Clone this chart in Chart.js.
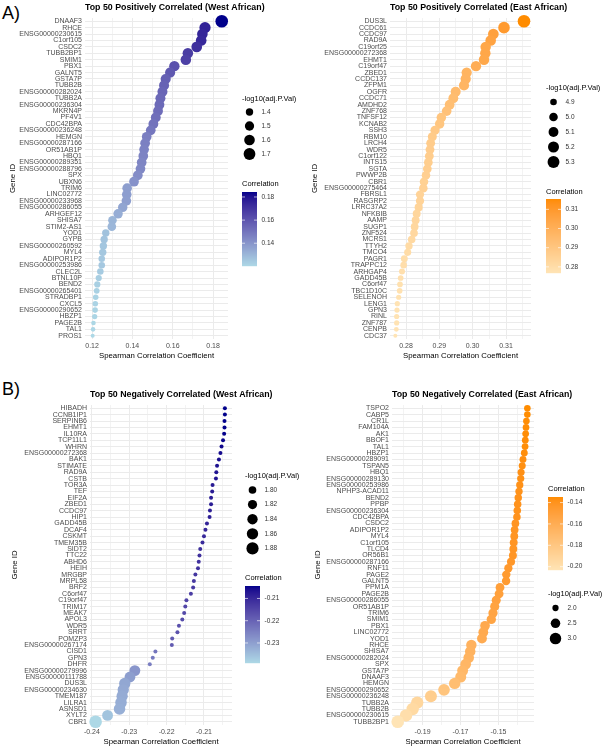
<!DOCTYPE html>
<html>
<head>
<meta charset="utf-8">
<script src="https://cdn.jsdelivr.net/npm/chart.js@4.4.1/dist/chart.umd.min.js"></script>
<style>
  body { margin: 0; background: #fff; width: 608px; height: 749px; position: relative; overflow: hidden;
         font-family: 'Liberation Sans', Arial, sans-serif; }
  canvas { position: absolute; }
  .tag { position: absolute; font-size: 18px; line-height: 18px; color: #000; }
</style>
</head>
<body>
<div class="tag" style="left:2px;top:4px">A)</div>
<div class="tag" style="left:2px;top:380px">B)</div>
<canvas id="posWest" width="304" height="365" style="left:0;top:0"></canvas>
<canvas id="posEast" width="304" height="365" style="left:304px;top:0"></canvas>
<canvas id="negWest" width="304" height="381" style="left:0;top:368px"></canvas>
<canvas id="negEast" width="304" height="381" style="left:304px;top:368px"></canvas>
<script>
// --- A) top 50 positive, West African
const westPosGenes = ['DNAAF3','RHCE','ENSG00000230615','C1orf105','CSDC2','TUBB2BP1','SMIM1','PBX1','GALNT5','GSTA7P',
  'TUBB2B','ENSG00000282024','TUBB2A','ENSG00000236304','MKRN4P','PF4V1','CDC42BPA','ENSG00000236248','HEMGN','ENSG00000287166',
  'OR51AB1P','HBQ1','ENSG00000289351','ENSG00000288796','SPX','UBXN6','TRIM6','LINC02772','ENSG00000233968','ENSG00000286055',
  'ARHGEF12','SHISA7','STIM2-AS1','YOD1','GYPB','ENSG00000260592','MYL4','ADIPOR1P2','ENSG00000253986','CLEC2L',
  'BTNL10P','BEND2','ENSG00000265401','STRADBP1','CXCL5','ENSG00000290652','HBZP1','PAGE2B','TAL1','PROS1'];
const westPosCorr = [0.1843,0.1760,0.1747,0.1741,0.1719,0.1675,0.1665,0.1608,0.1587,0.1565,
  0.1557,0.1549,0.1539,0.1534,0.1527,0.1516,0.1504,0.1491,0.1471,0.1463,
  0.1458,0.1454,0.1446,0.1440,0.1427,0.1408,0.1374,0.1372,0.1370,0.1352,
  0.1329,0.1301,0.1298,0.1268,0.1260,0.1256,0.1253,0.1248,0.1248,0.1241,
  0.1233,0.1226,0.1223,0.1218,0.1216,0.1215,0.1213,0.1207,0.1205,0.1203];
const westPosLogP = [1.78,1.65,1.60,1.60,1.60,1.59,1.59,1.58,1.56,1.56,
  1.55,1.55,1.55,1.54,1.54,1.54,1.54,1.53,1.53,1.53,
  1.53,1.53,1.53,1.53,1.53,1.53,1.52,1.52,1.52,1.51,
  1.51,1.46,1.46,1.40,1.40,1.40,1.40,1.37,1.37,1.37,
  1.36,1.36,1.35,1.345,1.345,1.345,1.34,1.332,1.332,1.33];
const westPosTicks = [0.12, 0.14, 0.16, 0.18];
const westPosSizeBreaks = [1.4, 1.5, 1.6, 1.7];
const westPosColorBreaks = [0.14, 0.16, 0.18];

// --- A) top 50 positive, East African
const eastPosGenes = ['DUS3L','CCDC61','CCDC97','RAD9A','C19orf25','ENSG00000272368','EHMT1','C19orf47','ZBED1','CCDC137',
  'ZFPM1','OGFR','CCDC71','AMDHD2','ZNF768','TNFSF12','KCNAB2','SSH3','RBM10','LRCH4',
  'WDR5','C1orf122','INTS15','SGTA','PWWP2B','CBR1','ENSG00000275464','FBRSL1','RASGRP2','LRRC37A2',
  'NFKBIB','AAMP','SUGP1','ZNF524','MCRS1','TTYH2','TMCO4','PAGR1','TRAPPC12','ARHGAP4',
  'GADD45B','C6orf47','TBC1D10C','SELENOH','LENG1','GPN3','RINL','ZNF787','CENPB','CDC37'];
const eastPosCorr = [0.3154,0.3094,0.3062,0.3054,0.3039,0.3038,0.3034,0.3010,0.2982,0.2979,
  0.2974,0.2949,0.2942,0.2931,0.2922,0.2906,0.2901,0.2887,0.2879,0.2874,
  0.2872,0.2870,0.2867,0.2864,0.2860,0.2854,0.2852,0.2842,0.2842,0.2838,
  0.2832,0.2829,0.2826,0.2824,0.2817,0.2809,0.2805,0.2795,0.2793,0.2788,
  0.2784,0.2782,0.2781,0.2778,0.2774,0.2773,0.2772,0.2772,0.2771,0.2768];
const eastPosLogP = [5.38,5.26,5.17,5.16,5.15,5.15,5.15,5.14,5.13,5.13,
  5.12,5.11,5.10,5.09,5.08,5.07,5.06,5.04,5.03,5.02,
  5.02,5.02,5.01,5.01,5.00,5.00,5.00,4.98,4.98,4.97,
  4.96,4.96,4.95,4.95,4.94,4.93,4.92,4.91,4.90,4.88,
  4.87,4.87,4.87,4.86,4.86,4.86,4.86,4.86,4.855,4.85];
const eastPosTicks = [0.28, 0.29, 0.30, 0.31];
const eastPosSizeBreaks = [4.9, 5.0, 5.1, 5.2, 5.3];
const eastPosColorBreaks = [0.28, 0.29, 0.30, 0.31];

// --- B) top 50 negative, West African
const westNegGenes = ['HIBADH','CCNB1IP1','SERPINB6','EHMT1','IL10RA','TCP11L1','WHRN','ENSG00000272368','BAK1','STIMATE',
  'RAD9A','CSTB','TOR3A','TEF','EIF2A','ZBED1','CCDC97','HIP1','GADD45B','DCAF4',
  'CSKMT','TMEM35B','SIDT2','TTC22','ABHD6','HEIH','MRGBP','MRPL58','BRF2','C6orf47',
  'C19orf47','TRIM17','MEAK7','APOL3','WDR5','SRRT','POMZP3','ENSG00000267174','CISD1','GPN3',
  'DHFR','ENSG00000279996','ENSG00000111788','DUS3L','ENSG00000234630','TMEM187','LILRA1','ASNSD1','XYLT2','CBR1'];
const westNegCorr = [-0.2044,-0.2044,-0.2045,-0.2045,-0.2046,-0.2049,-0.2053,-0.2056,-0.2060,-0.2065,
  -0.2067,-0.2068,-0.2077,-0.2078,-0.2081,-0.2081,-0.2084,-0.2085,-0.2092,-0.2096,
  -0.2100,-0.2104,-0.2110,-0.2112,-0.2114,-0.2116,-0.2123,-0.2127,-0.2129,-0.2135,
  -0.2147,-0.2150,-0.2153,-0.2158,-0.2167,-0.2171,-0.2185,-0.2186,-0.2230,-0.2237,
  -0.2245,-0.2285,-0.2298,-0.2312,-0.2316,-0.2319,-0.2322,-0.2326,-0.2358,-0.2390];
const westNegLogP = [1.78,1.78,1.78,1.78,1.78,1.78,1.78,1.78,1.78,1.78,
  1.78,1.78,1.78,1.78,1.78,1.78,1.78,1.78,1.78,1.78,
  1.78,1.78,1.78,1.78,1.78,1.78,1.78,1.78,1.78,1.78,
  1.78,1.78,1.78,1.78,1.78,1.78,1.78,1.78,1.78,1.78,
  1.78,1.85,1.85,1.86,1.86,1.86,1.865,1.865,1.85,1.89];
const westNegTicks = [-0.24, -0.23, -0.22, -0.21];
const westNegSizeBreaks = [1.80, 1.82, 1.84, 1.86, 1.88];
const westNegColorBreaks = [-0.23, -0.22, -0.21];

// --- B) top 50 negative, East African
const eastNegGenes = ['TSPO2','CABP5','CR1L','FAM104A','AK1','BBOF1','TAL1','HBZP1','ENSG00000289091','TSPAN5',
  'HBQ1','ENSG00000289130','ENSG00000253986','NPHP3-ACAD11','BEND2','PPBP','ENSG00000236304','CDC42BPA','CSDC2','ADIPOR1P2',
  'MYL4','C1orf105','TLCD4','OR56B1','ENSG00000287166','RNF11','PAGE2','GALNT5','PPM1A','PAGE2B',
  'ENSG00000286055','OR51AB1P','TRIM6','SMIM1','PBX1','LINC02772','YOD1','RHCE','SHISA7','ENSG00000282024',
  'SPX','GSTA7P','DNAAF3','HEMGN','ENSG00000290652','ENSG00000236248','TUBB2A','TUBB2B','ENSG00000230615','TUBB2BP1'];
const eastNegCorr = [-0.1348,-0.1348,-0.1353,-0.1355,-0.1357,-0.1359,-0.1360,-0.1364,-0.1371,-0.1375,
  -0.1381,-0.1383,-0.1388,-0.1392,-0.1396,-0.1399,-0.1401,-0.1403,-0.1411,-0.1415,
  -0.1417,-0.1420,-0.1422,-0.1424,-0.1434,-0.1448,-0.1459,-0.1460,-0.1492,-0.1497,
  -0.1512,-0.1520,-0.1529,-0.1538,-0.1571,-0.1580,-0.1587,-0.1643,-0.1649,-0.1657,
  -0.1673,-0.1689,-0.1699,-0.1731,-0.1787,-0.1856,-0.1928,-0.1952,-0.1987,-0.2031];
const eastNegLogP = [2.03,2.03,2.04,2.04,2.05,2.05,2.05,2.06,2.07,2.08,
  2.09,2.10,2.11,2.12,2.13,2.14,2.15,2.15,2.17,2.18,
  2.19,2.20,2.20,2.21,2.23,2.26,2.28,2.28,2.36,2.37,
  2.40,2.42,2.44,2.46,2.54,2.56,2.58,2.72,2.73,2.76,
  2.80,2.84,2.87,2.95,3.05,3.15,3.25,3.28,3.30,3.35];
const eastNegTicks = [-0.19, -0.17, -0.15];
const eastNegSizeBreaks = [2.0, 2.5, 3.0];
const eastNegColorBreaks = [-0.20, -0.18, -0.16, -0.14];

const FONT = "'Liberation Sans', Arial, sans-serif";
Chart.defaults.font.family = FONT;

// colour ramp in CIE Lab, like ggplot's scale_colour_gradient
function lin(c) { c /= 255; return c <= 0.04045 ? c / 12.92 : Math.pow((c + 0.055) / 1.055, 2.4); }
function unlin(c) {
  c = c <= 0.0031308 ? 12.92 * c : 1.055 * Math.pow(c, 1 / 2.4) - 0.055;
  return Math.round(Math.max(0, Math.min(1, c)) * 255);
}
function toLab(hex) {
  const r = lin(parseInt(hex.slice(1, 3), 16)), g = lin(parseInt(hex.slice(3, 5), 16)), b = lin(parseInt(hex.slice(5, 7), 16));
  const X = (0.4124564 * r + 0.3575761 * g + 0.1804375 * b) / 0.95047;
  const Y = 0.2126729 * r + 0.7151522 * g + 0.0721750 * b;
  const Z = (0.0193339 * r + 0.1191920 * g + 0.9503041 * b) / 1.08883;
  const f = t => t > 0.008856 ? Math.cbrt(t) : 7.787 * t + 16 / 116;
  return [116 * f(Y) - 16, 500 * (f(X) - f(Y)), 200 * (f(Y) - f(Z))];
}
function fromLab(L, a, b) {
  const fy = (L + 16) / 116, fx = fy + a / 500, fz = fy - b / 200;
  const fi = t => t * t * t > 0.008856 ? t * t * t : (t - 16 / 116) / 7.787;
  const X = fi(fx) * 0.95047, Y = fi(fy), Z = fi(fz) * 1.08883;
  const r = 3.2404542 * X - 1.5371385 * Y - 0.4985314 * Z;
  const g = -0.9692660 * X + 1.8760108 * Y + 0.0415560 * Z;
  const bl = 0.0556434 * X - 0.2040259 * Y + 1.0572252 * Z;
  return 'rgb(' + unlin(r) + ',' + unlin(g) + ',' + unlin(bl) + ')';
}
function ramp(low, high) {
  const A = toLab(low), B = toLab(high);
  return t => {
    t = Math.max(0, Math.min(1, t));
    return fromLab(A[0] + (B[0] - A[0]) * t, A[1] + (B[1] - A[1]) * t, A[2] + (B[2] - A[2]) * t);
  };
}

const R_MIN = 2.0, R_MAX = 6.3;
function sizer(dom) {
  return v => {
    const t = Math.max(0, Math.min(1, (v - dom[0]) / (dom[1] - dom[0])));
    return R_MIN + (R_MAX - R_MIN) * Math.sqrt(t);
  };
}

function decor(p, col, rad, cMin, cMax) {
  return {
    id: 'decor',
    afterDraw(chart) {
      const ctx = chart.ctx, a = chart.chartArea;
      ctx.save();
      ctx.fillStyle = '#000';
      ctx.textBaseline = 'middle';
      ctx.textAlign = 'left';
      ctx.font = 'bold 8.8px ' + FONT;
      ctx.fillText(p.title, a.left, p.titleY);

      ctx.font = '7.8px ' + FONT;
      ctx.textAlign = 'center';
      ctx.fillText('Spearman Correlation Coefficient', (a.left + a.right) / 2, p.xTitleY);
      ctx.save();
      ctx.translate(p.yTitleX, (a.top + a.bottom) / 2);
      ctx.rotate(-Math.PI / 2);
      ctx.fillText('Gene ID', 0, 0);
      ctx.restore();

      // size legend
      const s = p.sizeLeg;
      ctx.textAlign = 'left';
      ctx.font = '7.5px ' + FONT;
      ctx.fillStyle = '#000';
      ctx.fillText('-log10(adj.P.Val)', s.x, s.titleY);
      ctx.font = '6.5px ' + FONT;
      p.sizeBreaks.forEach((b, i) => {
        const y = s.y0 + i * s.dy;
        ctx.fillStyle = '#000';
        ctx.beginPath();
        ctx.arc(s.x + 7.5, y, rad(b), 0, Math.PI * 2);
        ctx.fill();
        ctx.fillStyle = '#333';
        ctx.fillText(b.toFixed(s.dec), s.x + 19.5, y);
      });

      // colour bar
      const c = p.colorLeg;
      ctx.fillStyle = '#000';
      ctx.font = '7.5px ' + FONT;
      ctx.fillText('Correlation', c.x, c.titleY);
      const h = c.bottom - c.top;
      for (let k = 0; k < h; k++) {
        ctx.fillStyle = col(1 - (k + 0.5) / h);
        ctx.fillRect(c.x, c.top + k, 15, 1.2);
      }
      ctx.font = '6.5px ' + FONT;
      p.colorBreaks.forEach(b => {
        const y = c.bottom - (b - cMin) / (cMax - cMin) * h;
        ctx.strokeStyle = 'rgba(255,255,255,0.8)';
        ctx.lineWidth = 0.8;
        ctx.beginPath();
        ctx.moveTo(c.x, y); ctx.lineTo(c.x + 3, y);
        ctx.moveTo(c.x + 12, y); ctx.lineTo(c.x + 15, y);
        ctx.stroke();
        ctx.fillStyle = '#333';
        ctx.fillText(b.toFixed(2), c.x + 19.5, y);
      });
      ctx.restore();
    }
  };
}

function makePanel(id, p) {
  const el = document.getElementById(id);
  const W = el.width, H = el.height;
  const cMin = Math.min(...p.corr), cMax = Math.max(...p.corr);
  const ramp01 = ramp(p.low, p.high);
  const colOf = v => ramp01((v - cMin) / (cMax - cMin));
  const rad = sizer(p.sizeDomain);
  const isMajor = v => p.ticks.some(t => Math.abs(t - v) < 1e-7);

  return new Chart(el, {
    type: 'scatter',
    data: {
      datasets: [{
        data: p.genes.map((g, i) => ({ x: p.corr[i], y: g, s: p.logp[i] })),
        backgroundColor: c => colOf(c.raw.x),
        borderWidth: 0,
        pointRadius: c => rad(c.raw.s),
        pointHoverRadius: c => rad(c.raw.s),
        clip: false
      }]
    },
    options: {
      responsive: false,
      animation: false,
      devicePixelRatio: 1,
      events: [],
      layout: { padding: { left: 0, top: p.area.t, right: W - p.area.r, bottom: 0 } },
      plugins: { legend: { display: false }, tooltip: { enabled: false } },
      scales: {
        x: {
          type: 'linear',
          min: p.xMin,
          max: p.xMax,
          afterFit: s => { s.height = H - p.area.b; },
          border: { display: false },
          grid: {
            drawTicks: false,
            color: c => (c.tick && isMajor(c.tick.value)) ? '#EBEBEB' : '#F3F3F3',
            lineWidth: 1
          },
          ticks: {
            stepSize: p.minorStep,
            includeBounds: false,
            maxTicksLimit: 30,
            autoSkip: false,
            maxRotation: 0,
            padding: 3,
            color: '#4D4D4D',
            font: { size: 7 },
            callback: v => isMajor(v) ? v.toFixed(2) : ''
          }
        },
        y: {
          type: 'category',
          labels: p.genes,
          offset: true,
          afterFit: s => { s.width = p.area.l; },
          border: { display: false },
          grid: { drawTicks: false, color: '#EBEBEB', lineWidth: 1 },
          ticks: { autoSkip: false, padding: 3, color: '#4D4D4D', font: { size: 7 } }
        }
      }
    },
    plugins: [decor(p, ramp01, rad, cMin, cMax)]
  });
}

makePanel('posWest', {
  title: 'Top 50 Positively Correlated (West African)',
  genes: westPosGenes, corr: westPosCorr, logp: westPosLogP,
  ticks: westPosTicks, minorStep: 0.01, xMin: 0.1165, xMax: 0.1874,
  low: '#ADD8E6', high: '#00008B', sizeDomain: [1.33, 1.78],
  sizeBreaks: westPosSizeBreaks, colorBreaks: westPosColorBreaks,
  area: { l: 85, t: 18, r: 228, b: 339 },
  titleY: 8, xTitleY: 356, yTitleX: 13,
  sizeLeg: { x: 242, titleY: 99, y0: 112, dy: 14, dec: 1 },
  colorLeg: { x: 242, titleY: 184, top: 192, bottom: 266 }
});

makePanel('posEast', {
  title: 'Top 50 Positively Correlated (East African)',
  genes: eastPosGenes, corr: eastPosCorr, logp: eastPosLogP,
  ticks: eastPosTicks, minorStep: 0.005, xMin: 0.2752, xMax: 0.3175,
  low: '#FFE4B5', high: '#FF8C00', sizeDomain: [4.85, 5.38],
  sizeBreaks: eastPosSizeBreaks, colorBreaks: eastPosColorBreaks,
  area: { l: 86, t: 18, r: 227, b: 339 },
  titleY: 8, xTitleY: 356, yTitleX: 11,
  sizeLeg: { x: 242, titleY: 88, y0: 102, dy: 15, dec: 1 },
  colorLeg: { x: 242, titleY: 192, top: 199, bottom: 273 }
});

makePanel('negWest', {
  title: 'Top 50 Negatively Correlated (West African)',
  genes: westNegGenes, corr: westNegCorr, logp: westNegLogP,
  ticks: westNegTicks, minorStep: 0.005, xMin: -0.2405, xMax: -0.2025,
  low: '#ADD8E6', high: '#00008B', sizeDomain: [1.78, 1.89],
  sizeBreaks: westNegSizeBreaks, colorBreaks: westNegColorBreaks,
  area: { l: 90, t: 37, r: 232, b: 357 },
  titleY: 27, xTitleY: 374, yTitleX: 15,
  sizeLeg: { x: 245, titleY: 108, y0: 122, dy: 14.6, dec: 2 },
  colorLeg: { x: 245, titleY: 210, top: 218, bottom: 295 }
});

makePanel('negEast', {
  title: 'Top 50 Negatively Correlated (East African)',
  genes: eastNegGenes, corr: eastNegCorr, logp: eastNegLogP,
  ticks: eastNegTicks, minorStep: 0.01, xMin: -0.2061, xMax: -0.1313,
  low: '#FFE4B5', high: '#FF8C00', sizeDomain: [1.9, 3.35],
  sizeBreaks: eastNegSizeBreaks, colorBreaks: eastNegColorBreaks,
  area: { l: 88, t: 37, r: 230, b: 357 },
  titleY: 27, xTitleY: 374, yTitleX: 14,
  sizeLeg: { x: 244, titleY: 226, y0: 240, dy: 15.3, dec: 1 },
  colorLeg: { x: 244, titleY: 121, top: 129, bottom: 202 }
});
</script>
</body>
</html>
